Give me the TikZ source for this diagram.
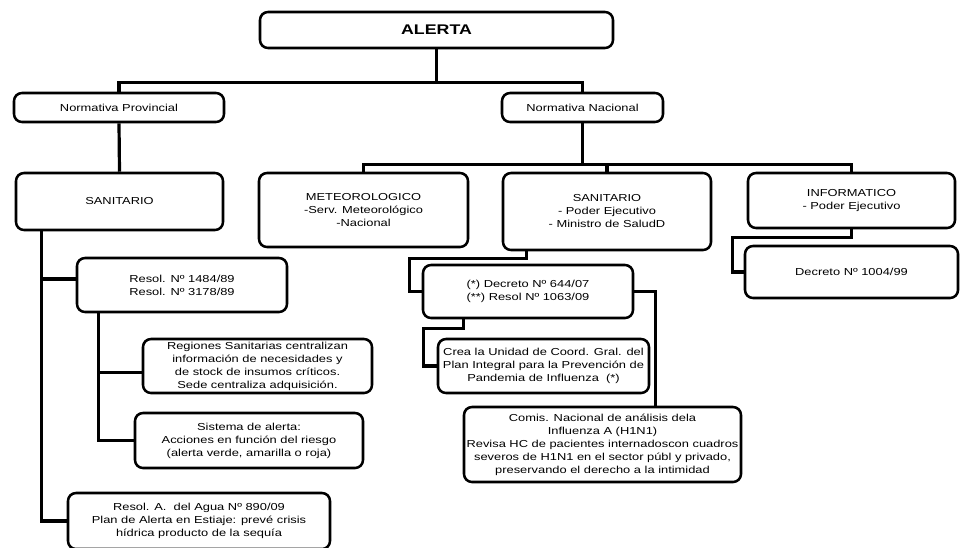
\documentclass[tikz,border=0pt]{standalone}
\usepackage{fontspec}
\setmainfont{Liberation Sans}[FakeStretch=1.27]
\usetikzlibrary{calc}

\newcommand{\px}{0.75pt}

\begin{document}
\begin{tikzpicture}[x=0.75pt, y=-0.75pt,
  box/.style={draw=black, line width=1.9pt, rounded corners=6pt, align=center,
    inner sep=1pt, font=\fontsize{7.6}{9.75}\selectfont, text=black},
  conn/.style={draw=black, line width=2.4pt},
]
\useasboundingbox (0,0) rectangle (960,547);
\fill[white] (0,0) rectangle (960,547);
\clip (0,0) rectangle (960,547);

% top levels
\node[box, minimum width=353*\px, minimum height=36*\px, font=\fontsize{10.5}{12}\selectfont\bfseries] (alerta) at (436.5,30) {ALERTA};
\node[box, minimum width=210*\px, minimum height=29*\px] (prov) at (119,107.5) {Normativa Provincial};
\node[box, minimum width=161*\px, minimum height=29*\px] (nac) at (582.5,107.5) {Normativa Nacional};

% second row
\node[box, minimum width=207*\px, minimum height=57*\px] (sanl) at (119.5,201.5) {SANITARIO};
\node[box, minimum width=209*\px, minimum height=74*\px] (meteo) at (363.5,210) {METEOROLOGICO\\-Serv. Meteorológico\\-Nacional};
\node[box, minimum width=208*\px, minimum height=77*\px] (sanN) at (607,211.5) {SANITARIO\\- Poder Ejecutivo\\- Ministro de SaludD};
\node[box, minimum width=207*\px, minimum height=55*\px] (info) at (851.5,200.5) {INFORMATICO\\- Poder Ejecutivo};

% nacional branch
\node[box, minimum width=213*\px, minimum height=52*\px] (dec1004) at (851.5,272) {Decreto Nº 1004/99};
\node[box, minimum width=210*\px, minimum height=53*\px] (dec644) at (528,291.5) {(*) Decreto Nº 644/07\\(**) Resol Nº 1063/09};
\node[box, minimum width=211*\px, minimum height=54*\px] (crea) at (543.5,366) {Crea la Unidad de Coord. Gral. del\\Plan Integral para la Prevención de\\Pandemia de Influenza~~(*)};
\node[box, minimum width=277*\px, minimum height=75*\px] (comis) at (602.5,444.5) {Comis. Nacional de análisis dela\\Influenza A (H1N1)\\Revisa HC de pacientes internadoscon cuadros\\severos de H1N1 en el sector públ y privado,\\preservando el derecho a la intimidad};

% provincial branch
\node[box, minimum width=210*\px, minimum height=54*\px] (res1484) at (182,285) {Resol. Nº 1484/89\\Resol. Nº 3178/89};
\node[box, minimum width=229*\px, minimum height=54*\px] (reg) at (257.5,366) {Regiones Sanitarias centralizan\\información de necesidades y\\de stock de insumos críticos.\\Sede centraliza adquisición.};
\node[box, minimum width=228*\px, minimum height=55*\px] (sis) at (249,440.5) {Sistema de alerta:\\Acciones en función del riesgo\\(alerta verde, amarilla o roja)};
\node[box, minimum width=262*\px, minimum height=56*\px] (resA) at (199,521) {Resol. A.~~del Agua Nº 890/09\\Plan de Alerta en Estiaje: prevé crisis\\hídrica producto de la sequía};

% connectors
\draw[conn] (alerta.south) -- ++(0,33) -| (prov.north);
\draw[conn] (alerta.south) -- ++(0,33) -| (nac.north);
\draw[conn] (prov.south) -- (sanl.north);
\draw[conn] (nac.south) -- ++(0,41) -| (meteo.north);
\draw[conn] (nac.south) -- ++(0,41) -| (sanN.north);
\draw[conn] (nac.south) -- ++(0,41) -| (info.north);

\draw[conn] ($(sanl.south west)+(27,0)$) |- ([yshift=4.5pt]res1484.west);
\draw[conn] ($(sanl.south west)+(27,0)$) |- (resA.west);
\draw[conn] ($(res1484.south west)+(23,0)$) |- ([yshift=-5pt]reg.west);
\draw[conn] ($(res1484.south west)+(23,0)$) |- (sis.west);

\draw[conn] (info.south) |- ++(-119,8) |- (dec1004.west);
\draw[conn] ($(sanN.south west)+(25,0)$) |- ++(-117,7) |- (dec644.west);
\draw[conn] ($(dec644.south west)+(42,0)$) |- ++(-40,9) |- (crea.west);
\draw[conn] (dec644.east) -| ($(comis.north west)+(193,0)$);

\end{tikzpicture}
\end{document}
